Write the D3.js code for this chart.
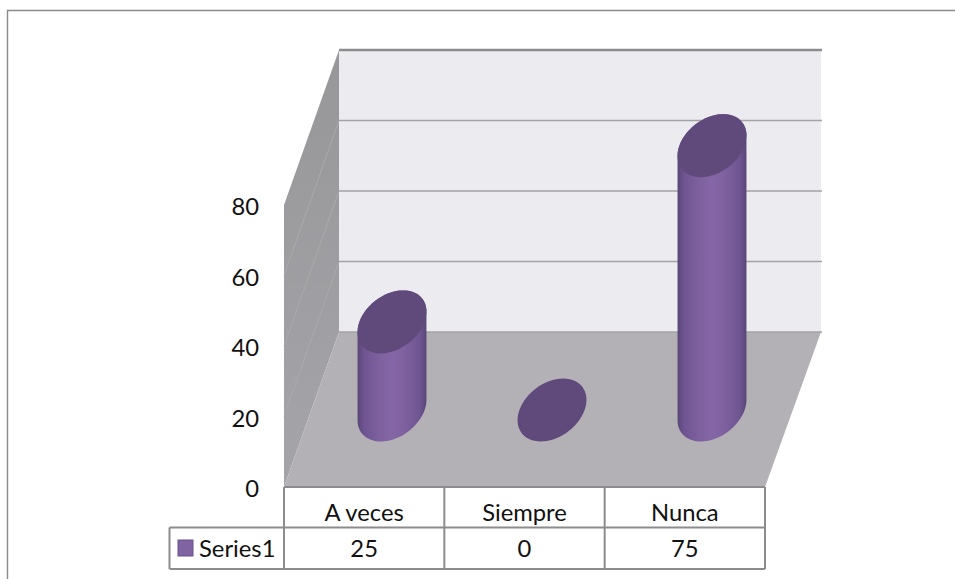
<!DOCTYPE html>
<html><head><meta charset="utf-8">
<script src="https://cdn.jsdelivr.net/npm/d3@7"></script>
<style>html,body{margin:0;padding:0;background:#fff;overflow:hidden}svg{display:block}text{font-family:Lato,"Open Sans",sans-serif;fill:#111}</style>
</head><body><svg id="c" width="955" height="579"></svg>
<script>
const categories = ["A veces", "Siempre", "Nunca"];
const values = [25, 0, 75];
const yTicks = [0, 20, 40, 60, 80];
const seriesName = "Series1";

const svg = d3.select("#c");
const FS = 23.8, LINE = "#8c8c8c";
const frontL = 284, frontR = 765, backL = 339, backR = 821, frontY = 487, backY = 332;
const yBack = d3.scaleLinear().domain([0, 80]).range([backY, 50]);
const yFront = d3.scaleLinear().domain([0, 80]).range([frontY, 205]);
const xTable = d3.scaleBand().domain(categories).range([frontL, frontR]);
const xBar = d3.scalePoint().domain(categories).range([392, 712]);
const baseY = 410;

const defs = svg.append("defs");
const grad = defs.append("linearGradient").attr("id", "cyl");
[[0,"#5a4676"],[.1,"#6f5592"],[.35,"#8062a0"],[.5,"#8565a6"],[.65,"#8062a0"],[.9,"#6f5592"],[1,"#5a4676"]]
  .forEach(([o,c]) => grad.append("stop").attr("offset", o).attr("stop-color", c));
const wallGrad = defs.append("linearGradient").attr("id","wall").attr("x1",0).attr("x2",0).attr("y1",0).attr("y2",1);
wallGrad.append("stop").attr("offset",0).attr("stop-color","#979699");
wallGrad.append("stop").attr("offset",1).attr("stop-color","#a5a4a8");

// outer frame
svg.append("path").attr("d","M7.5,579V10.5H955").attr("fill","none").attr("stroke","#8a8a8a").attr("stroke-width",1.4);

const poly = pts => "M" + pts.map(p => p.join(",")).join("L") + "Z";
// walls
svg.append("path").attr("d", poly([[backL,yBack(0)],[backR,yBack(0)],[backR,yBack(80)],[backL,yBack(80)]])).attr("fill","#ecebf0");
svg.append("path").attr("d", poly([[frontL,yFront(0)],[backL,yBack(0)],[backL,yBack(80)],[frontL,yFront(80)]])).attr("fill","url(#wall)");
svg.append("path").attr("d", poly([[frontL,frontY],[frontR,frontY],[backR,backY],[backL,backY]])).attr("fill","#b3b1b6");

// gridlines
yTicks.forEach(t => {
  svg.append("line").attr("x1",backL).attr("x2",backR+1).attr("y1",yBack(t)).attr("y2",yBack(t))
    .attr("stroke", t===80 ? "#8c8c8c" : "#a3a3a5").attr("stroke-width", t===80 ? 2.4 : 1.6);
  if (t > 0 && t < 80) svg.append("line").attr("x1",frontL).attr("x2",backL).attr("y1",yFront(t)).attr("y2",yBack(t))
    .attr("stroke","#aaa9ac").attr("stroke-width",1);
});

// y axis
const ax = svg.append("g").attr("transform",`translate(259,2)`)
  .call(d3.axisLeft(yFront).tickValues(yTicks).tickSize(0).tickPadding(0));
ax.select(".domain").remove();
ax.selectAll("text").style("font-size",FS+"px").style("font-family","Lato").attr("fill","#111");

// cylinders
const r = 32.6, s = 31.5, k = 55/155;
const t0 = Math.atan2(k*s, r);
const pt = (cx,cy,t) => [cx + r*Math.cos(t) + k*s*Math.sin(t), cy - s*Math.sin(t)];
const line = d3.line();
const N = 60;
const arc = (cx,cy,a,b) => d3.range(N+1).map(i => pt(cx,cy,a+(b-a)*i/N));
categories.forEach((c,i) => {
  const cx = xBar(c), h = yBack(0) - yBack(values[i]), topY = baseY - h;
  if (values[i] > 0) {
    svg.append("path")
      .attr("d", line([...arc(cx,topY,t0,t0+Math.PI), ...arc(cx,baseY,t0+Math.PI,t0+2*Math.PI)])+"Z")
      .attr("fill","url(#cyl)");
  }
  svg.append("path").attr("d", line(arc(cx,topY,0,2*Math.PI))+"Z").attr("fill","#604a7b");
});

// data table
const tableTop = frontY, row1 = 527.5, row2 = 569, legendL = 169.5;
const tbl = svg.append("g").attr("fill","none").attr("stroke",LINE).attr("stroke-width",2);
tbl.append("path").attr("d",`M${frontL},${tableTop}H${frontR}M${legendL},${row1}H${frontR}M${legendL},${row2}H${frontR}M${legendL},${row1}V${row2}`);
[...categories.map(c => xTable(c)), frontR].forEach(x => tbl.append("line").attr("x1",x).attr("x2",x).attr("y1",tableTop).attr("y2",row2));

categories.forEach((c,i) => {
  const mx = xTable(c) + xTable.bandwidth()/2;
  svg.append("text").attr("x",mx).attr("y",520.5).attr("text-anchor","middle").attr("font-size",FS).text(c);
  svg.append("text").attr("x",mx).attr("y",557).attr("text-anchor","middle").attr("font-size",FS).text(values[i]);
});
svg.append("rect").attr("x",178).attr("y",540).attr("width",15).attr("height",16).attr("fill","#8064a2").attr("stroke","#6b5389").attr("stroke-width",1);
svg.append("text").attr("x",199).attr("y",557).attr("font-size",FS).text(seriesName);
</script></body></html>
